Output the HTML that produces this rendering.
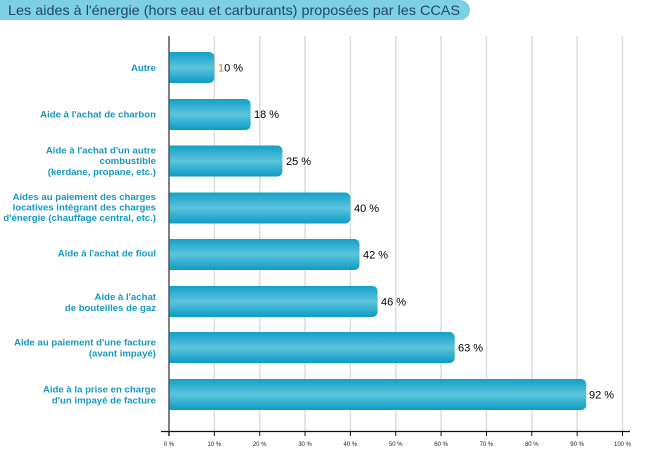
<!DOCTYPE html>
<html><head><meta charset="utf-8"><style>
html,body{margin:0;padding:0;background:#fff;}
svg{display:block;}
</style></head><body>
<svg width="646" height="462" viewBox="0 0 646 462" xmlns="http://www.w3.org/2000/svg" font-family="Liberation Sans, sans-serif">
<defs>
<linearGradient id="bg" x1="0" y1="0" x2="0" y2="1">
<stop offset="0" stop-color="#12a0c8"/>
<stop offset="0.5" stop-color="#5cc4dc"/>
<stop offset="1" stop-color="#0c9bc4"/>
</linearGradient>
</defs>
<!-- title banner -->
<path d="M0 0 H460 A10 10 0 0 1 460 20 H0 Z" fill="#7dcfe4"/>
<text x="8" y="15" font-size="14" fill="#1f4a6a" textLength="452" lengthAdjust="spacingAndGlyphs">Les aides à l'énergie (hors eau et carburants) proposées par les CCAS</text>

<!-- gridlines -->
<g stroke="#dcdcdc" stroke-width="1.5">
<line x1="214.35" y1="36" x2="214.35" y2="432"/>
<line x1="259.7" y1="36" x2="259.7" y2="432"/>
<line x1="305.05" y1="36" x2="305.05" y2="432"/>
<line x1="350.4" y1="36" x2="350.4" y2="432"/>
<line x1="395.75" y1="36" x2="395.75" y2="432"/>
<line x1="441.1" y1="36" x2="441.1" y2="432"/>
<line x1="486.45" y1="36" x2="486.45" y2="432"/>
<line x1="531.8" y1="36" x2="531.8" y2="432"/>
<line x1="577.15" y1="36" x2="577.15" y2="432"/>
<line x1="622.5" y1="36" x2="622.5" y2="432"/>
</g>

<!-- bars -->
<g fill="url(#bg)">
<path d="M169 52 H209.35 A5 5 0 0 1 214.35 57 V78 A5 5 0 0 1 209.35 83 H169 Z"/>
<path d="M169 99 H245.6 A5 5 0 0 1 250.6 104 V125 A5 5 0 0 1 245.6 130 H169 Z"/>
<path d="M169 145.5 H277.4 A5 5 0 0 1 282.4 150.5 V171.5 A5 5 0 0 1 277.4 176.5 H169 Z"/>
<path d="M169 192.5 H345.4 A5 5 0 0 1 350.4 197.5 V218.5 A5 5 0 0 1 345.4 223.5 H169 Z"/>
<path d="M169 239 H354.5 A5 5 0 0 1 359.5 244 V265 A5 5 0 0 1 354.5 270 H169 Z"/>
<path d="M169 286 H372.6 A5 5 0 0 1 377.6 291 V312 A5 5 0 0 1 372.6 317 H169 Z"/>
<path d="M169 332 H449.7 A5 5 0 0 1 454.7 337 V358 A5 5 0 0 1 449.7 363 H169 Z"/>
<path d="M169 379 H581.2 A5 5 0 0 1 586.2 384 V405 A5 5 0 0 1 581.2 410 H169 Z"/>
</g>

<!-- axes -->
<line x1="169" y1="36" x2="169" y2="436" stroke="#555" stroke-width="1.5"/>
<line x1="161" y1="431.5" x2="630" y2="431.5" stroke="#111" stroke-width="1.2"/>
<g stroke="#111" stroke-width="1">
<line x1="169" y1="431" x2="169" y2="436"/>
<line x1="214.35" y1="431" x2="214.35" y2="436"/>
<line x1="259.7" y1="431" x2="259.7" y2="436"/>
<line x1="305.05" y1="431" x2="305.05" y2="436"/>
<line x1="350.4" y1="431" x2="350.4" y2="436"/>
<line x1="395.75" y1="431" x2="395.75" y2="436"/>
<line x1="441.1" y1="431" x2="441.1" y2="436"/>
<line x1="486.45" y1="431" x2="486.45" y2="436"/>
<line x1="531.8" y1="431" x2="531.8" y2="436"/>
<line x1="577.15" y1="431" x2="577.15" y2="436"/>
<line x1="622.5" y1="431" x2="622.5" y2="436"/>
</g>
<g font-size="6" fill="#222" text-anchor="middle">
<text x="169" y="446">0 %</text>
<text x="214.35" y="446">10 %</text>
<text x="259.7" y="446">20 %</text>
<text x="305.05" y="446">30 %</text>
<text x="350.4" y="446">40 %</text>
<text x="395.75" y="446">50 %</text>
<text x="441.1" y="446">60 %</text>
<text x="486.45" y="446">70 %</text>
<text x="531.8" y="446">80 %</text>
<text x="577.15" y="446">90 %</text>
<text x="622.5" y="446">100 %</text>
</g>

<!-- value labels -->
<g font-size="11" fill="#000">
<text x="218" y="71.5"><tspan fill="#c98a10">1</tspan>0 %</text>
<text x="254" y="118">18 %</text>
<text x="286" y="165">25 %</text>
<text x="354" y="212">40 %</text>
<text x="363" y="258.5">42 %</text>
<text x="381" y="305.5">46 %</text>
<text x="458" y="351.5">63 %</text>
<text x="589" y="398.5">92 %</text>
</g>

<!-- category labels -->
<g font-size="9.6" font-weight="bold" fill="#1698c2" text-anchor="end">
<text x="156" y="70.9">Autre</text>
<text x="156" y="117.4">Aide à l'achat de charbon</text>
<text x="156" y="153.4">Aide à l'achat d'un autre</text>
<text x="156" y="164.1">combustible</text>
<text x="156" y="175.1">(kerdane, propane, etc.)</text>
<text x="156" y="200.1">Aides au paiement des charges</text>
<text x="156" y="210.7">locatives intégrant des charges</text>
<text x="156" y="221.1">d'énergie (chauffage central, etc.)</text>
<text x="156" y="256.7">Aide à l'achat de fioul</text>
<text x="156" y="300.1">Aide à l'achat</text>
<text x="156" y="311.1">de bouteilles de gaz</text>
<text x="156" y="345.7">Aide au paiement d'une facture</text>
<text x="156" y="356.7">(avant impayé)</text>
<text x="156" y="392.4">Aide à la prise en charge</text>
<text x="156" y="403.4">d'un impayé de facture</text>
</g>
</svg>
</body></html>
